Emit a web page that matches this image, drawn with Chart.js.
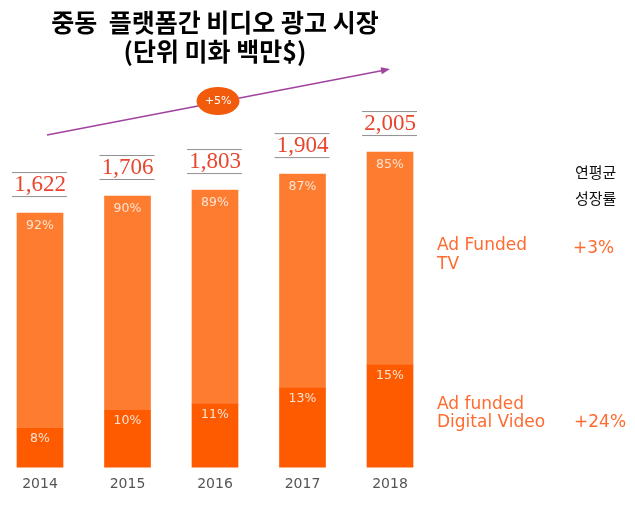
<!DOCTYPE html>
<html>
<head>
  <meta charset="utf-8">
  <script src="https://cdn.jsdelivr.net/npm/chart.js"></script>
  <style>
    body { margin: 0; background: #fff; }
  </style>
</head>
<body>
  <canvas id="adChart" width="635" height="505"></canvas>

  <script>
    // values (US$ millions)
    const years = ['2014', '2015', '2016', '2017', '2018'];
    const videoValues = [249, 364, 403, 505, 652];
    const tvValues = [1375, 1369, 1368, 1368, 1362];
    const totalLabels = ['1,622', '1,706', '1,803', '1,904', '2,005'];
    const tvShares = ['92%', '90%', '89%', '87%', '85%'];
    const videoShares = ['8%', '10%', '11%', '13%', '15%'];
    const titleLines = ['중동  플랫폼간 비디오 광고 시장', '(단위 미화 백만$)'];

    const annotate = {
      id: 'annotate',
      afterDatasetsDraw(chart) {
        const ctx = chart.ctx;
        const video = chart.getDatasetMeta(0).data;
        const tv = chart.getDatasetMeta(1).data;
        ctx.save();
        ctx.textAlign = 'center';
        ctx.textBaseline = 'middle';
        years.forEach((yr, i) => {
          const x = tv[i].x, top = tv[i].y, split = video[i].y;
          ctx.fillStyle = '#fde3d2';
          ctx.font = '12.5px "DejaVu Sans"';
          ctx.fillText(tvShares[i], x, top + 12.5);
          ctx.fillText(videoShares[i], x, split + 11);

          // total with rules above and below
          ctx.strokeStyle = '#909090';
          ctx.lineWidth = 1;
          ctx.beginPath();
          ctx.moveTo(x - 28, top - 40.5); ctx.lineTo(x + 27, top - 40.5);
          ctx.moveTo(x - 28, top - 16.5); ctx.lineTo(x + 27, top - 16.5);
          ctx.stroke();
          ctx.fillStyle = '#e8462e';
          ctx.font = '23px "Liberation Serif"';
          ctx.fillText(totalLabels[i], x, top - 28);
        });
        ctx.restore();
      },
      afterDraw(chart) {
        const ctx = chart.ctx;
        ctx.save();
        // growth arrow
        const x0 = 47, y0 = 135, x1 = 390, y1 = 69;
        ctx.strokeStyle = '#a0439e';
        ctx.fillStyle = '#a0439e';
        ctx.lineWidth = 1.5;
        ctx.beginPath();
        ctx.moveTo(x0, y0);
        ctx.lineTo(x1 - 6, y1 + 1.2);
        ctx.stroke();
        const a = Math.atan2(y1 - y0, x1 - x0);
        ctx.beginPath();
        ctx.moveTo(x1, y1);
        ctx.lineTo(x1 - 9 * Math.cos(a) + 3.5 * Math.sin(a), y1 - 9 * Math.sin(a) - 3.5 * Math.cos(a));
        ctx.lineTo(x1 - 9 * Math.cos(a) - 3.5 * Math.sin(a), y1 - 9 * Math.sin(a) + 3.5 * Math.cos(a));
        ctx.closePath();
        ctx.fill();

        ctx.fillStyle = '#f25a0c';
        ctx.beginPath();
        ctx.ellipse(218, 101, 21.5, 14, 0, 0, Math.PI * 2);
        ctx.fill();
        ctx.fillStyle = '#fff';
        ctx.font = '11px "DejaVu Sans"';
        ctx.textAlign = 'center';
        ctx.textBaseline = 'middle';
        ctx.fillText('+5%', 218, 101);

        // right-hand legend
        ctx.textAlign = 'left';
        ctx.fillStyle = '#111';
        ctx.font = '15px "Noto Sans CJK KR"';
        ctx.fillText('연평균', 575, 172);
        ctx.fillText('성장률', 575, 198);

        ctx.fillStyle = '#ff6b30';
        ctx.font = '17px "DejaVu Sans"';
        ctx.fillText('Ad Funded', 437, 246);
        ctx.fillText('TV', 437, 265);
        ctx.fillText('+3%', 573, 249);
        ctx.fillText('Ad funded', 437, 405);
        ctx.fillText('Digital Video', 437, 423);
        ctx.fillText('+24%', 574, 423);
        ctx.restore();
      }
    };

    new Chart(document.getElementById('adChart'), {
      type: 'bar',
      data: {
        labels: years,
        datasets: [
          {
            label: 'Ad funded Digital Video',
            data: videoValues,
            backgroundColor: '#fe5a00',
            barThickness: 46,
            clip: false
          },
          {
            label: 'Ad Funded TV',
            data: tvValues,
            backgroundColor: '#fe7c2f',
            barThickness: 46,
            clip: false
          }
        ]
      },
      options: {
        responsive: false,
        animation: false,
        layout: { padding: { top: 8, left: 40, right: 245, bottom: 3 } },
        plugins: {
          legend: { display: false },
          tooltip: { enabled: false },
          title: {
            display: true,
            text: titleLines,
            color: '#000',
            font: { family: '"Noto Sans CJK KR"', size: 25, weight: 'bold', lineHeight: 1.16 },
            padding: { top: 0, bottom: 10 }
          }
        },
        scales: {
          x: {
            stacked: true,
            offset: false,
            grid: { display: false, drawTicks: false },
            border: { display: false },
            ticks: { color: '#555', font: { family: '"DejaVu Sans"', size: 14 }, padding: 9 }
          },
          y: {
            stacked: true,
            display: false,
            min: 0,
            max: 2500
          }
        }
      },
      plugins: [annotate]
    });
  </script>
</body>
</html>
